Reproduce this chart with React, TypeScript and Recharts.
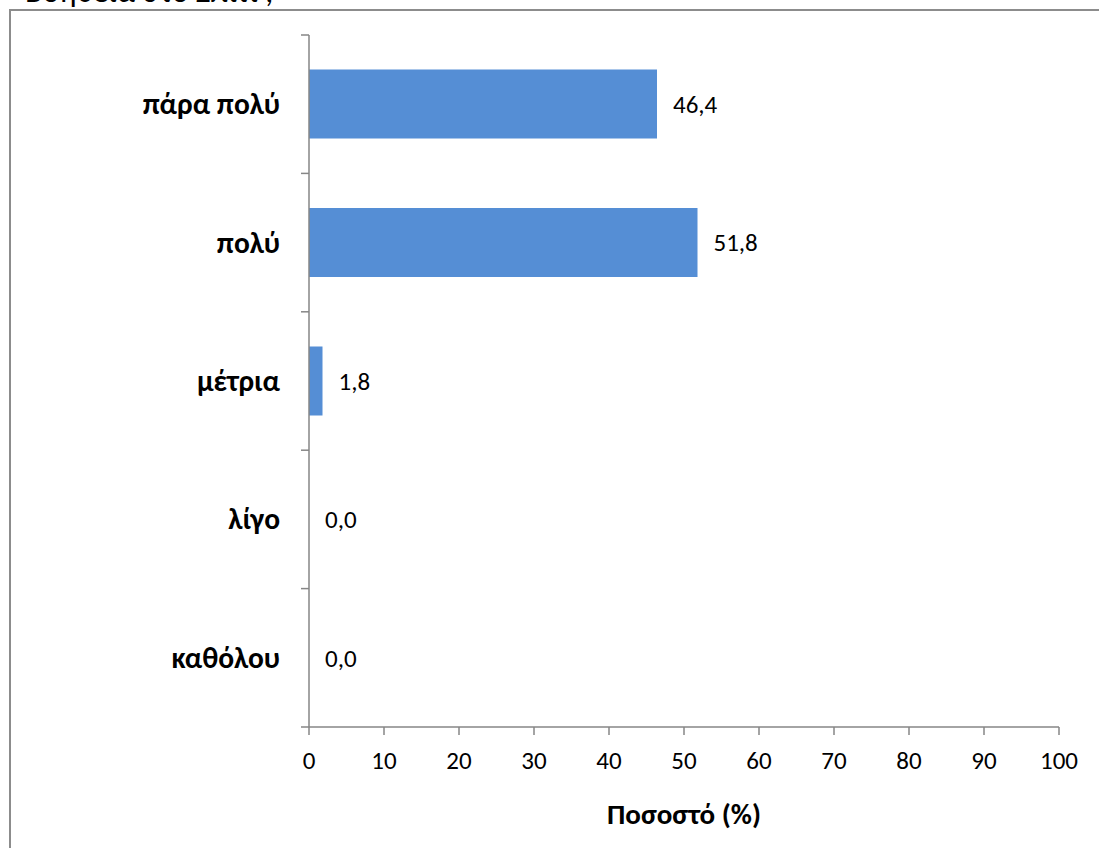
import React from 'react';
import { BarChart, Bar, XAxis, YAxis, LabelList, Label } from 'recharts';

const categories = ['πάρα πολύ', 'πολύ', 'μέτρια', 'λίγο', 'καθόλου'];
const values = [46.4, 51.8, 1.8, 0.0, 0.0];
const xTicks = [0, 10, 20, 30, 40, 50, 60, 70, 80, 90, 100];
const title = 'Βοήθεια στο Σπίτι ;';
const axisTitle = 'Ποσοστό (%)';

const data = categories.map((name, i) => ({ name, value: values[i] }));

const FONT = 'Carlito, Calibri, "Open Sans", "Noto Sans", sans-serif';
const AXIS = '#868686';
const TICK_SIZE = 8;
const TICK_MARGIN = 21;

const CatTick = (props: any) => {
  const { x, y, payload, index } = props;
  const half = payload && payload.offset ? payload.offset : 0;
  const axisX = x + TICK_SIZE + TICK_MARGIN;
  return (
    <g>
      <line x1={axisX - TICK_SIZE} x2={axisX} y1={y - half} y2={y - half} stroke={AXIS} strokeWidth={1.5} />
      {index === categories.length - 1 && (
        <line x1={axisX - TICK_SIZE} x2={axisX} y1={y + half} y2={y + half} stroke={AXIS} strokeWidth={1.5} />
      )}
      <text x={x} y={y} textAnchor="end" dominantBaseline="central" fontFamily={FONT} fontWeight={700} fontSize={29.5} fill="#000">
        {payload.value}
      </text>
    </g>
  );
};

export default function App() {
  return (
    <div style={{ position: 'absolute', left: 0, top: 0, width: 1099, height: 848, overflow: 'hidden', background: '#fff' }}>
      <div style={{ position: 'absolute', left: 25, top: -28, fontFamily: FONT, fontSize: 32, color: '#000', whiteSpace: 'nowrap' }}>{title}</div>
      <div style={{ position: 'absolute', left: 9, top: 9, width: 1200, height: 1000, borderTop: '2px solid #8c8c8c', borderLeft: '2px solid #8c8c8c', background: '#fff' }} />
      <div style={{ position: 'absolute', left: 0, top: 0 }}>
        <BarChart
          width={1099}
          height={848}
          data={data}
          layout="vertical"
          margin={{ top: 35, right: 40, bottom: 0, left: 0 }}
          barCategoryGap="25%"
        >
          <XAxis
            type="number"
            domain={[0, 100]}
            ticks={xTicks}
            interval={0}
            height={121}
            tickSize={TICK_SIZE}
            tickMargin={16}
            stroke={AXIS}
            axisLine={{ stroke: AXIS, strokeWidth: 1.5 }}
            tickLine={{ stroke: AXIS, strokeWidth: 1.5 }}
            tick={{ fill: '#000', fontSize: 25, fontFamily: FONT }}
          >
            <Label value={axisTitle} position="insideBottom" offset={24} fill="#000" fontSize={29} fontWeight={700} fontFamily={FONT} />
          </XAxis>
          <YAxis
            type="category"
            dataKey="name"
            width={309}
            tickSize={TICK_SIZE}
            tickMargin={TICK_MARGIN}
            interval={0}
            tickLine={false}
            axisLine={{ stroke: AXIS, strokeWidth: 1.5 }}
            tick={<CatTick />}
          />
          <Bar dataKey="value" fill="#558ED5" minPointSize={0.01} isAnimationActive={false}>
            <LabelList
              dataKey="value"
              position="right"
              offset={16}
              fill="#000"
              fontSize={25}
              fontFamily={FONT}
              formatter={(v: any) => Number(v).toFixed(1).replace('.', ',')}
            />
          </Bar>
        </BarChart>
      </div>
    </div>
  );
}
